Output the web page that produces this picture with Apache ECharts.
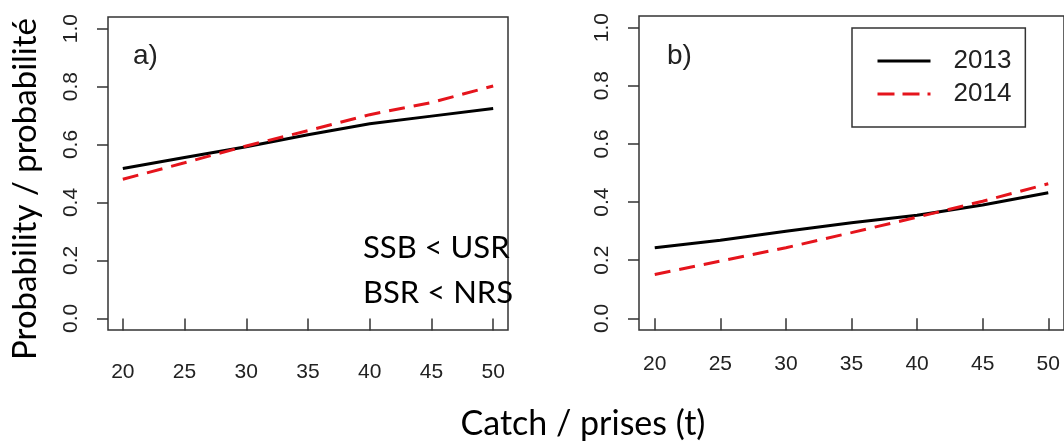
<!DOCTYPE html>
<html>
<head>
<meta charset="utf-8">
<script src="https://cdn.jsdelivr.net/npm/echarts@6/dist/echarts.min.js"></script>
<style>
html,body{margin:0;padding:0;background:#fff;}
#chart{width:1064px;height:444px;}
</style>
</head>
<body>
<div id="chart"></div>
<script>
// ---- data ----
const catchT = [20, 25, 30, 35, 40, 45, 50];
const xTicks = [20, 25, 30, 35, 40, 45, 50];
const yTicks = [0, 0.2, 0.4, 0.6, 0.8, 1.0];
const seriesNames = ['2013', '2014'];
const panelA2013 = [0.517, 0.555, 0.592, 0.634, 0.672, 0.698, 0.724];
const panelA2014 = [0.480, 0.537, 0.595, 0.648, 0.703, 0.745, 0.802];
const panelB2013 = [0.243, 0.269, 0.300, 0.329, 0.355, 0.390, 0.432];
const panelB2014 = [0.151, 0.197, 0.243, 0.295, 0.348, 0.403, 0.463];
const panelLabels = ['a)', 'b)'];
const yTitle = 'Probability / probabilité';
const xTitle = 'Catch / prises (t)';
const noteLines = ['SSB < USR', 'BSR < NRS'];

const toPts = arr => catchT.map((x, i) => [x, arr[i]]);

const tickFont = 'Liberation Sans';
const axisColor = '#333';

function xAxisCfg(gridIndex, margin) {
  return {
    type: 'value', gridIndex, min: 18.8, max: 51.2,
    axisLine: {show: false},
    axisTick: {show: true, inside: false, length: 12, customValues: xTicks,
      lineStyle: {color: axisColor, width: 1.5}},
    axisLabel: {customValues: xTicks, margin, fontFamily: tickFont, fontSize: 21, color: '#222'},
    splitLine: {show: false}
  };
}
function yAxisCfg(gridIndex) {
  return {
    type: 'value', gridIndex, min: -0.04, max: 1.04,
    axisLine: {show: false},
    axisTick: {show: true, inside: false, length: 11, customValues: yTicks,
      lineStyle: {color: axisColor, width: 1.5}},
    axisLabel: {customValues: yTicks, rotate: 90, margin: 26, fontFamily: tickFont, fontSize: 21, color: '#222',
      formatter: v => Number(v).toFixed(1)},
    splitLine: {show: false}
  };
}
const blackStyle = {color: '#000', width: 3, type: 'solid'};
const redStyle = {color: '#e5141c', width: 3, type: [16, 9]};

function lineSeries(name, data, xi, style) {
  return {
    name, type: 'line', xAxisIndex: xi, yAxisIndex: xi, data,
    symbol: 'none', showSymbol: false, smooth: false,
    lineStyle: style, itemStyle: {color: style.color}, silent: true, animation: false
  };
}

const chart = echarts.init(document.getElementById('chart'), null, {renderer: 'canvas'});
chart.setOption({
  animation: false,
  backgroundColor: '#fff',
  grid: [
    {left: 108, top: 17, width: 400, height: 313, show: true, borderColor: axisColor, borderWidth: 1.5, backgroundColor: 'transparent'},
    {left: 639, top: 16, width: 428, height: 314, show: true, borderColor: axisColor, borderWidth: 1.5, backgroundColor: 'transparent'}
  ],
  xAxis: [xAxisCfg(0, 32), xAxisCfg(1, 24)],
  yAxis: [yAxisCfg(0), yAxisCfg(1)],
  legend: {
    data: [
      {name: seriesNames[0], lineStyle: {width: 3, type: 'solid'}},
      {name: seriesNames[1], lineStyle: {width: 3, type: [17, 8]}}
    ],
    orient: 'vertical',
    left: 852, top: 28,
    padding: [20, 14, 20, 24],
    itemWidth: 53, itemHeight: 26, itemGap: 7,
    borderColor: axisColor, borderWidth: 1.5,
    itemStyle: {opacity: 0},
    textStyle: {fontFamily: tickFont, fontSize: 26, color: '#222', padding: [0, 0, 0, 18]},
    selectedMode: false
  },
  series: [
    lineSeries(seriesNames[0], toPts(panelA2013), 0, blackStyle),
    lineSeries(seriesNames[1], toPts(panelA2014), 0, redStyle),
    lineSeries(seriesNames[0], toPts(panelB2013), 1, blackStyle),
    lineSeries(seriesNames[1], toPts(panelB2014), 1, redStyle)
  ],
  graphic: [
    {type: 'text', left: 133, top: 42, style: {text: panelLabels[0], font: '28px "Liberation Sans"', fill: '#222'}},
    {type: 'text', left: 667, top: 42, style: {text: panelLabels[1], font: '28px "Liberation Sans"', fill: '#222'}},
    {type: 'text', x: 363, y: 248, style: {text: noteLines[0], font: '31px Lato', fill: '#000', textVerticalAlign: 'middle'}},
    {type: 'text', x: 363, y: 293, style: {text: noteLines[1], font: '31px Lato', fill: '#000', textVerticalAlign: 'middle'}},
    {type: 'text', x: 25, y: 189, rotation: Math.PI / 2,
      style: {text: yTitle, font: '33px Lato', fill: '#000', textAlign: 'center', textVerticalAlign: 'middle'}},
    {type: 'text', x: 583, y: 424,
      style: {text: xTitle, font: '34px Lato', fill: '#000', textAlign: 'center', textVerticalAlign: 'middle'}}
  ]
});
</script>
</body>
</html>
